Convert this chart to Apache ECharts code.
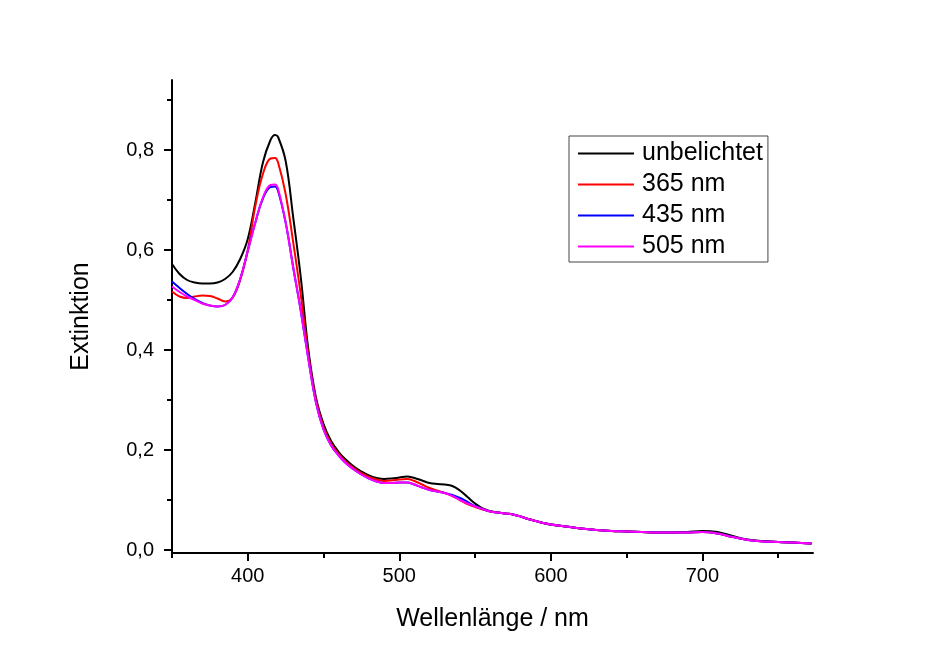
<!DOCTYPE html>
<html>
<head>
<meta charset="utf-8">
<script src="https://cdn.jsdelivr.net/npm/echarts@6/dist/echarts.min.js"></script>
<style>
html,body{margin:0;padding:0;background:#fff;}
#c{width:928px;height:655px;}
</style>
</head>
<body>
<div id="c"></div>
<script>
// Wavelengths (nm)
const wavelengths = [350,355,360,365,370,375,380,385,390,395,400,405,410,415,418,420,425,430,435,440,445,450,455,460,465,470,475,480,485,490,495,500,505,510,515,520,525,530,535,540,545,550,555,560,565,570,575,580,585,590,595,600,610,620,630,640,650,660,670,680,690,700,710,720,730,740,750,760,772];

const seriesNames = ['unbelichtet', '365 nm', '435 nm', '505 nm'];

const unbelichtet = [0.572,0.552,0.540,0.535,0.533,0.533,0.535,0.542,0.556,0.582,0.622,0.695,0.775,0.820,0.830,0.826,0.778,0.665,0.545,0.400,0.305,0.252,0.218,0.196,0.180,0.167,0.157,0.149,0.144,0.142,0.143,0.145,0.147,0.144,0.139,0.134,0.132,0.131,0.128,0.119,0.106,0.093,0.083,0.078,0.075,0.073,0.071,0.067,0.062,0.058,0.054,0.051,0.047,0.043,0.040,0.038,0.037,0.036,0.035,0.035,0.036,0.038,0.036,0.028,0.021,0.018,0.016,0.015,0.013];

const nm365 = [0.517,0.507,0.504,0.507,0.509,0.508,0.503,0.497,0.505,0.540,0.600,0.688,0.752,0.783,0.784,0.775,0.712,0.615,0.510,0.390,0.300,0.246,0.213,0.192,0.176,0.164,0.154,0.146,0.141,0.138,0.139,0.141,0.142,0.138,0.131,0.124,0.119,0.114,0.108,0.100,0.092,0.086,0.081,0.077,0.075,0.073,0.071,0.067,0.062,0.058,0.054,0.051,0.047,0.043,0.040,0.038,0.037,0.036,0.035,0.035,0.035,0.036,0.033,0.026,0.020,0.017,0.016,0.015,0.013];

const nm435 = [0.537,0.524,0.512,0.502,0.494,0.489,0.487,0.490,0.505,0.542,0.598,0.655,0.703,0.726,0.727,0.718,0.655,0.565,0.478,0.382,0.295,0.241,0.209,0.189,0.173,0.161,0.151,0.143,0.137,0.134,0.134,0.135,0.135,0.131,0.125,0.120,0.117,0.114,0.110,0.104,0.096,0.088,0.082,0.077,0.075,0.073,0.071,0.067,0.062,0.058,0.054,0.051,0.047,0.043,0.040,0.038,0.037,0.036,0.035,0.035,0.035,0.036,0.033,0.026,0.020,0.017,0.016,0.015,0.013];

const nm505 = [0.527,0.516,0.507,0.500,0.493,0.489,0.487,0.490,0.505,0.542,0.598,0.655,0.705,0.730,0.731,0.722,0.655,0.565,0.478,0.382,0.295,0.241,0.209,0.189,0.173,0.161,0.151,0.143,0.137,0.134,0.134,0.135,0.135,0.131,0.125,0.120,0.117,0.114,0.108,0.100,0.093,0.087,0.082,0.077,0.075,0.073,0.071,0.067,0.062,0.058,0.054,0.051,0.047,0.043,0.040,0.038,0.037,0.036,0.035,0.035,0.035,0.036,0.033,0.026,0.020,0.017,0.016,0.015,0.013];

const xMajorTicks = [400, 500, 600, 700];
const xMinorTicks = [350, 450, 550, 650, 750];
const yMajorTicks = [0, 0.2, 0.4, 0.6, 0.8];
const yMinorTicks = [0.1, 0.3, 0.5, 0.7, 0.9];

const colors = ['#000000', '#ff0000', '#0000ff', '#ff00ff'];
const allValues = [unbelichtet, nm365, nm435, nm505];

const font = 'Liberation Sans, Arial, sans-serif';
const chart = echarts.init(document.getElementById('c'), null, {renderer: 'canvas'});

const axisLineStyle = {show: true, onZero: false, lineStyle: {color: '#000', width: 2}};

chart.setOption({
  backgroundColor: '#ffffff',
  animation: false,
  grid: {left: 172, right: 115, top: 80, bottom: 102, containLabel: false},
  legend: {
    orient: 'vertical',
    left: 569, top: 136,
    padding: [5, 5, 3, 9],
    itemGap: 6,
    itemWidth: 56, itemHeight: 2,
    icon: 'rect',
    borderColor: '#444', borderWidth: 1,
    textStyle: {fontFamily: font, fontSize: 25, color: '#000', padding: [0, 0, 0, 3], lineHeight: 25},
    data: seriesNames
  },
  xAxis: [
    {
      type: 'value', min: 350, max: 773,
      name: 'Wellenlänge / nm', nameLocation: 'middle', nameGap: 54,
      nameTextStyle: {fontFamily: font, fontSize: 25, color: '#000'},
      axisLine: axisLineStyle,
      axisTick: {show: true, length: 8, customValues: xMajorTicks, lineStyle: {color: '#000', width: 2}},
      axisLabel: {show: true, customValues: xMajorTicks, margin: 13, fontFamily: font, fontSize: 20, color: '#000'},
      splitLine: {show: false}
    },
    {
      type: 'value', min: 350, max: 773, position: 'bottom',
      axisLine: {show: false, onZero: false},
      axisTick: {show: true, length: 5, customValues: xMinorTicks, lineStyle: {color: '#000', width: 2}},
      axisLabel: {show: false},
      splitLine: {show: false}
    }
  ],
  yAxis: [
    {
      type: 'value', min: -0.006, max: 0.94,
      name: 'Extinktion', nameLocation: 'middle', nameGap: 78, nameRotate: 90,
      nameTextStyle: {fontFamily: font, fontSize: 25, color: '#000'},
      axisLine: axisLineStyle,
      axisTick: {show: true, length: 8, customValues: yMajorTicks, lineStyle: {color: '#000', width: 2}},
      axisLabel: {show: true, customValues: yMajorTicks, margin: 18, fontFamily: font, fontSize: 20, color: '#000',
        formatter: v => v.toFixed(1).replace('.', ',')},
      splitLine: {show: false}
    },
    {
      type: 'value', min: -0.006, max: 0.94, position: 'left',
      axisLine: {show: false, onZero: false},
      axisTick: {show: true, length: 5, customValues: yMinorTicks, lineStyle: {color: '#000', width: 2}},
      axisLabel: {show: false},
      splitLine: {show: false}
    }
  ],
  series: seriesNames.map((name, i) => ({
    name: name,
    type: 'line',
    xAxisIndex: 0, yAxisIndex: 0,
    symbol: 'none',
    smooth: 0.4,
    color: colors[i],
    lineStyle: {color: colors[i], width: 2},
    data: wavelengths.map((w, j) => [w, allValues[i][j]])
  }))
});
</script>
</body>
</html>
